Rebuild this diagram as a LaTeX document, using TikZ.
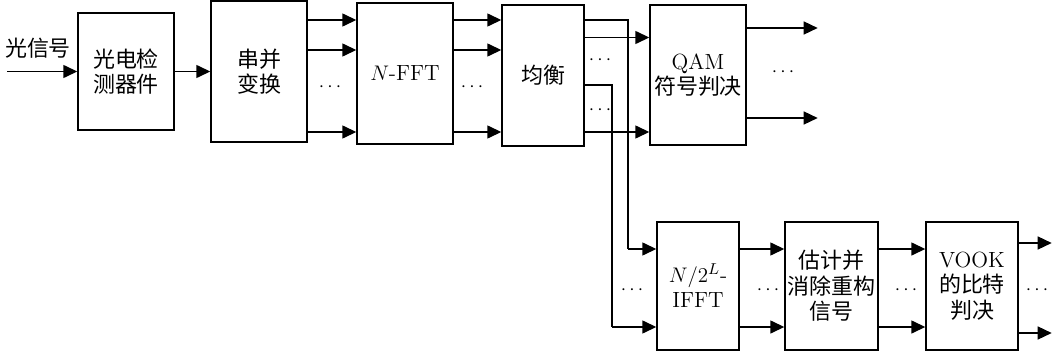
\documentclass[tikz,border=0pt]{standalone}
\usepackage{fontspec}
\newfontfamily\cjk{Noto Sans CJK SC}
\usepackage{tikz}
\usetikzlibrary{arrows.meta}

\begin{document}
\begin{tikzpicture}[
    % Styles
    box/.style={rectangle, draw, line width=0.8pt, minimum height=2.82cm, minimum width=1.92cm, align=center, inner sep=1pt, font=\fontsize{12.5}{14.5}\selectfont},
    arrow/.style={-{Triangle[length=2.8mm, width=2.6mm]}, line width=0.8pt},
    wire/.style={line width=0.8pt},
    dots/.style={font=\fontsize{11}{13}\selectfont},
]
\useasboundingbox (0,0) rectangle (21.1,-7.1);

% === Top row ===
\node[box, minimum height=2.34cm] (pd) at (2.52,-1.43) {\cjk 光电检\\\cjk 测器件};
\node[box] (sp) at (5.18,-1.43) {\cjk 串并\\\cjk 变换};
\node[box] (fft) at (8.1,-1.47) {$N$-FFT};
\node[box, minimum width=1.64cm] (eq) at (10.86,-1.51) {\cjk 均衡};
\node[box, minimum height=2.8cm] (qam) at (13.96,-1.5) {QAM\\\cjk 符号判决};

% === Bottom row ===
\node[box, minimum height=2.56cm, minimum width=1.64cm] (ifft) at (13.96,-5.72) {$N/2^L$-\\IFFT};
\node[box, minimum height=2.56cm, minimum width=1.86cm] (est) at (16.63,-5.72) {\cjk 估计并\\\cjk 消除重构\\\cjk 信号};
\node[box, minimum height=2.56cm, minimum width=1.84cm] (vook) at (19.44,-5.72) {VOOK\\\cjk 的比特\\\cjk 判决};

% Input
\coordinate (in) at (0.14,-1.43);
\node[font=\fontsize{12.5}{14.5}\selectfont\cjk] (sig) at (0.76,-0.96) {光信号};
\draw[arrow] (in) -- (pd.west);
\draw[arrow] (pd) -- (sp);

% Parallel branches
\foreach \y in {-0.4,-1.0,-2.64} {
  \draw[arrow] (sp.east |- 0,\y) -- (fft.west |- 0,\y);
  \draw[arrow] (fft.east |- 0,\y) -- (eq.west |- 0,\y);
}
\foreach \y in {-0.75,-2.64}
  \draw[arrow] (eq.east |- 0,\y) -- (qam.west |- 0,\y);
\foreach \y in {-0.56,-2.36}
  \draw[arrow] (qam.east |- 0,\y) -- ++(1.42,0);

% Equalizer to lower branch
\draw[wire] (eq.east |- 0,-0.4) -- (12.56,-0.4) -- (12.56,-4.98);
\draw[arrow] (12.56,-4.98) -- (ifft.west |- 0,-4.98);
\draw[wire] (eq.east |- 0,-1.7) -- (12.24,-1.7) -- (12.24,-6.54);
\draw[arrow] (12.24,-6.54) -- (ifft.west |- 0,-6.54);

\foreach \y in {-4.98,-6.54} {
  \draw[arrow] (ifft.east |- 0,\y) -- (est.west |- 0,\y);
  \draw[arrow] (est.east |- 0,\y) -- (vook.west |- 0,\y);
}
\foreach \y in {-4.86,-6.66}
  \draw[arrow] (vook.east |- 0,\y) -- ++(0.66,0);

% Dots
\node[dots] (d1) at (6.6,-1.74) {$\cdots$};
\node[dots] (d2) at (9.44,-1.74) {$\cdots$};
\node[dots] (d3) at (12.0,-1.2) {$\cdots$};
\node[dots] (d4) at (12.0,-2.2) {$\cdots$};
\node[dots] (d5) at (15.66,-1.44) {$\cdots$};
\node[dots] (d6) at (12.64,-5.8) {$\cdots$};
\node[dots] (d7) at (15.36,-5.8) {$\cdots$};
\node[dots] (d8) at (18.12,-5.8) {$\cdots$};
\node[dots] (d9) at (20.74,-5.8) {$\cdots$};

\end{tikzpicture}
\end{document}
